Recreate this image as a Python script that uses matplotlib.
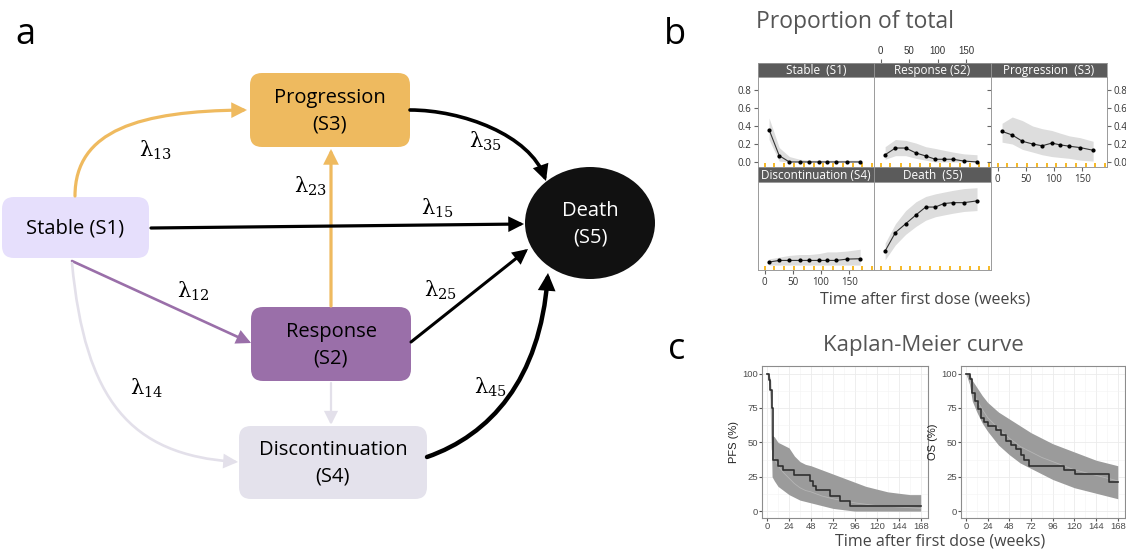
import matplotlib
matplotlib.use('Agg')
import matplotlib.pyplot as plt
from matplotlib.patches import FancyBboxPatch, Ellipse, FancyArrowPatch
from matplotlib.path import Path

W, H = 1126, 549
plt.rcParams['font.family'] = ['Open Sans', 'DejaVu Sans']
plt.rcParams['mathtext.fontset'] = 'dejavuserif'

# panel b: proportion of patients in each state
weeks = [8, 26, 44, 62, 79, 96, 111, 127, 146, 169]
stable_mid = [0.36, 0.07, 0.0, 0.0, 0.0, 0.0, 0.0, 0.0, 0.0, 0.0]
stable_lo = [0.25, 0.01, 0.0, 0.0, 0.0, 0.0, 0.0, 0.0, 0.0, 0.0]
stable_hi = [0.49, 0.16, 0.06, 0.03, 0.02, 0.02, 0.02, 0.02, 0.02, 0.02]
response_mid = [0.08, 0.155, 0.155, 0.10, 0.067, 0.03, 0.03, 0.03, 0.01, 0.0]
response_lo = [0.03, 0.07, 0.07, 0.04, 0.02, 0.0, 0.0, 0.0, 0.0, 0.0]
response_hi = [0.17, 0.25, 0.24, 0.21, 0.17, 0.15, 0.13, 0.11, 0.09, 0.08]
progression_mid = [0.34, 0.30, 0.23, 0.20, 0.18, 0.21, 0.19, 0.175, 0.16, 0.13]
progression_lo = [0.22, 0.20, 0.14, 0.11, 0.08, 0.06, 0.05, 0.04, 0.02, 0.01]
progression_hi = [0.43, 0.50, 0.46, 0.40, 0.37, 0.35, 0.32, 0.29, 0.27, 0.23]
discont_mid = [0.034, 0.053, 0.053, 0.053, 0.053, 0.053, 0.053, 0.053, 0.068, 0.072]
discont_lo = [0.0, 0.0, 0.0, 0.0, 0.0, 0.0, 0.0, 0.0, 0.0, 0.0]
discont_hi = [0.07, 0.09, 0.11, 0.12, 0.12, 0.13, 0.15, 0.15, 0.16, 0.18]
death_mid = [0.16, 0.37, 0.47, 0.57, 0.66, 0.66, 0.70, 0.71, 0.71, 0.73]
death_lo = [0.06, 0.23, 0.35, 0.44, 0.51, 0.55, 0.57, 0.59, 0.61, 0.62]
death_hi = [0.25, 0.47, 0.62, 0.72, 0.78, 0.81, 0.83, 0.85, 0.87, 0.88]
rug_weeks = [0, 17, 35, 52, 69, 87, 104, 121, 139, 156, 173, 190]

# panel c: Kaplan-Meier
pfs_t = [0, 2, 3.5, 5.5, 6.5, 12, 17, 30, 47, 50, 53, 69, 80, 91, 168]
pfs_s = [100, 95, 88, 75, 37, 33, 30, 26, 22, 18, 15, 11, 7.5, 4, 4]
pfs_band_t = [0, 2, 4, 5.5, 8, 12, 18, 24, 30, 36, 42, 48, 60, 72, 84, 96, 108, 120, 132, 144, 156, 168]
pfs_hi = [100, 100, 95, 55, 54, 50, 48, 46, 40, 36, 34, 33, 30, 27, 24, 21, 18, 16, 14, 13, 12, 12]
pfs_lo = [100, 95, 80, 25, 22, 18, 15, 12, 10, 8, 7, 6, 4, 2, 1, 0, 0, 0, 0, 0, 0, 0]
pfs_fit = [100, 98, 90, 45, 38, 33, 28, 24, 20, 17, 15, 14, 11, 9, 7.5, 6, 5, 4, 3.5, 3, 2.5, 2]
os_t = [0, 4, 7, 9.5, 13, 17, 20.5, 24, 33, 39, 44, 50, 55, 61, 64.5, 70, 109, 121, 158, 168]
os_s = [100, 96, 86, 80, 74, 68, 65, 62, 59, 55, 51, 48, 45, 41, 37, 33, 30, 27, 21.5, 21.5]
os_band_t = [0, 4, 7, 12, 18, 24, 36, 48, 60, 72, 84, 96, 108, 120, 132, 144, 156, 168]
os_hi = [100, 100, 95, 90, 84, 79, 72, 67, 62, 57, 53, 49, 46, 43, 40, 37, 35, 33]
os_lo = [100, 92, 80, 72, 64, 58, 48, 41, 35, 31, 27, 23, 20, 17, 15, 13, 11, 9]
os_fit = [100, 96, 88, 81, 74, 68, 60, 53, 47, 43, 39, 36, 33, 30, 28, 26, 24, 22]
km_ticks = [0, 24, 48, 72, 96, 120, 144, 168]

fig = plt.figure(figsize=(W / 100, H / 100), dpi=100)


def px_axes(x0, y0, x1, y1):
    return fig.add_axes([x0 / W, 1 - y1 / H, (x1 - x0) / W, (y1 - y0) / H])


# ---------------- panel a: state diagram ----------------
ax = fig.add_axes([0, 0, 1, 1])
ax.set_xlim(0, W)
ax.set_ylim(H, 0)
ax.axis('off')

boxes = [
    (2, 197, 149, 258, '#e6dffc', 'Stable (S1)'),
    (250, 73, 410, 147, '#eeba5f', 'Progression\n(S3)'),
    (251, 307, 411, 381, '#9a6fa9', 'Response\n(S2)'),
    (239, 426, 427, 499, '#e4e2ec', 'Discontinuation\n(S4)'),
]
for x0, y0, x1, y1, fc, label in boxes:
    ax.add_patch(FancyBboxPatch((x0, y0), x1 - x0, y1 - y0,
                                boxstyle='round,pad=0,rounding_size=12', fc=fc, ec='none'))
    ax.text((x0 + x1) / 2, (y0 + y1) / 2 + 1, label, ha='center', va='center',
            fontsize=14.5, linespacing=1.45)
ax.add_patch(Ellipse((590, 223), 130, 112, fc='#111111', ec='none'))
ax.text(590, 224, 'Death\n(S5)', ha='center', va='center', fontsize=14.5,
        color='white', linespacing=1.45)

head = '-|>,head_length=0.38,head_width=0.19'


def straight(p0, p1, color, lw):
    ax.add_patch(FancyArrowPatch(p0, p1, arrowstyle=head, mutation_scale=20, color=color,
                                 lw=lw, shrinkA=0, shrinkB=0, joinstyle='miter'))


def curved(pts, color, lw):
    path = Path(pts, [Path.MOVETO, Path.CURVE4, Path.CURVE4, Path.CURVE4])
    ax.add_patch(FancyArrowPatch(path=path, arrowstyle=head, mutation_scale=20, color=color,
                                 lw=lw, joinstyle='miter'))


orange, purple, pale = '#efba5f', '#9a6fa9', '#e3e0ea'
curved([(75, 196), (75, 130), (140, 111), (247, 110)], orange, 2.3)
straight((331, 306), (331, 149), orange, 2.3)
straight((151, 228), (524, 224), 'black', 2.3)
straight((72, 261), (251, 343), purple, 1.9)
curved([(72, 263), (85, 400), (130, 455), (238, 462)], pale, 1.9)
straight((331, 383), (331, 425), pale, 1.6)
curved([(410, 110), (462, 110), (530, 135), (546, 181)], 'black', 2.6)
straight((411, 342), (528, 249), 'black', 2.2)
curved([(427, 457), (490, 435), (540, 380), (548, 273)], 'black', 3.2)

lambdas = [(155, 150, '13'), (310, 186, '23'), (437, 208, '15'), (193, 291, '12'),
           (440, 290, '25'), (147, 388, '14'), (485, 141, '35'), (490, 387, '45')]
for x, y, sub in lambdas:
    ax.text(x, y, 'λ$_{%s}$' % sub, ha='center', va='center', fontsize=15,
            family=['DejaVu Serif'])

fig.text(25 / W, 1 - 35 / H, 'a', fontsize=26, ha='center', va='center')
fig.text(675 / W, 1 - 35 / H, 'b', fontsize=26, ha='center', va='center')
fig.text(677 / W, 1 - 350 / H, 'c', fontsize=26, ha='center', va='center')

# ---------------- panel b: proportion of total ----------------
tick_font = dict(family=['Liberation Sans', 'DejaVu Sans'], size=7)
grey_txt = '#555555'
fig.text(855 / W, 1 - 22 / H, 'Proportion of total', fontsize=16.5, color=grey_txt,
         ha='center', va='center')
fig.text(925 / W, 1 - 300 / H, 'Time after first dose (weeks)', fontsize=11.5,
         color='#444444', ha='center', va='center')

rows = [(63, 77, 167), (167, 182, 270)]
facets = [
    ('Stable  (S1)', stable_mid, stable_lo, stable_hi, 758, 874, 0),
    ('Response (S2)', response_mid, response_lo, response_hi, 874, 991, 0),
    ('Progression  (S3)', progression_mid, progression_lo, progression_hi, 991, 1107, 0),
    ('Discontinuation (S4)', discont_mid, discont_lo, discont_hi, 758, 874, 1),
    ('Death  (S5)', death_mid, death_lo, death_hi, 874, 991, 1),
]
for i, (name, mid, lo, hi, x0, x1, r) in enumerate(facets):
    s0, s1, p1 = rows[r]
    st = px_axes(x0, s0, x1, s1)
    st.set_facecolor('#5b5b5b')
    st.set_xlim(-11.5, 193.5)
    st.set_yticks([])
    st.set_xticks([])
    for sp in st.spines.values():
        sp.set_color('#9a9a9a')
        sp.set_linewidth(0.6)
    st.text(0.5, 0.45, name, transform=st.transAxes, ha='center', va='center',
            color='white', fontsize=8.5)

    p = px_axes(x0, s1, x1, p1)
    p.fill_between(weeks, lo, hi, color='#dddddd', lw=0)
    p.plot(weeks, mid, color='#333333', lw=0.8, marker='o', ms=2.0,
           mfc='black', mec='black')
    p.set_xlim(-11.5, 193.5)
    p.set_ylim(-0.056, 0.945)
    for sp in p.spines.values():
        sp.set_color('#9a9a9a')
        sp.set_linewidth(0.7)
    p.set_xticks([0, 50, 100, 150])
    p.set_yticks([0.0, 0.2, 0.4, 0.6, 0.8])
    p.set_yticklabels(['0.0', '0.2', '0.4', '0.6', '0.8'])
    p.xaxis.remove_overlapping_locs = False
    p.set_xticks(rug_weeks, minor=True)
    p.tick_params(axis='both', which='major', length=0, labelbottom=False, labelleft=False)
    p.tick_params(axis='x', which='minor', bottom=True, direction='in', length=3,
                  width=1.2, color='#f5ad00')
    p.tick_params(axis='y', which='minor', left=False)
    for lab in p.get_xticklabels() + p.get_yticklabels():
        lab.set_fontproperties(tick_font)
        lab.set_color('#333333')
    if i == 0:
        p.tick_params(axis='y', which='major', left=True, labelleft=True, length=3,
                      color='#666666', labelsize=7, labelcolor='#333333', pad=2)
    if i == 2:
        p.tick_params(axis='y', which='major', right=True, labelright=True, length=3,
                      color='#666666', labelsize=7, labelcolor='#333333', pad=2)
    if i in (2, 3):
        p.tick_params(axis='x', which='major', bottom=True, labelbottom=True, length=3,
                      color='#666666', labelsize=7, labelcolor='#333333', pad=2)
    if i == 1:
        st.set_xticks([0, 50, 100, 150])
        st.tick_params(axis='x', top=True, labeltop=True, bottom=False, labelbottom=False,
                       length=3, color='#666666', labelsize=7, labelcolor='#333333', pad=2)
        for lab in st.get_xticklabels():
            lab.set_fontproperties(tick_font)

# ---------------- panel c: Kaplan-Meier ----------------
fig.text(923 / W, 1 - 346 / H, 'Kaplan-Meier curve', fontsize=16, color=grey_txt,
         ha='center', va='center')
fig.text(940 / W, 1 - 542 / H, 'Time after first dose (weeks)', fontsize=11.5,
         color='#444444', ha='center', va='center')

km_panels = [
    (762, 928, 'PFS (%)', pfs_t, pfs_s, pfs_band_t, pfs_lo, pfs_hi, pfs_fit),
    (961, 1125, 'OS (%)', os_t, os_s, os_band_t, os_lo, os_hi, os_fit),
]
for x0, x1, ylab, t, s, bt, lo, hi, fit in km_panels:
    k = px_axes(x0, 366, x1, 518)
    k.set_facecolor('white')
    k.set_xlim(-5.5, 176)
    k.set_ylim(-5, 105.5)
    k.set_xticks(km_ticks)
    k.set_xticks([12, 36, 60, 84, 108, 132, 156], minor=True)
    k.set_yticks([0, 25, 50, 75, 100])
    k.set_yticks([12.5, 37.5, 62.5, 87.5], minor=True)
    k.grid(which='major', color='#ebebeb', lw=0.6)
    k.grid(which='minor', color='#f3f3f3', lw=0.4)
    k.set_axisbelow(True)
    k.fill_between(bt, lo, hi, color='#9b9b9b', lw=0)
    k.plot(bt, fit, color='#b5b5b5', lw=0.6)
    k.step(t, s, where='post', color='#2f2f2f', lw=1.2)
    for sp in k.spines.values():
        sp.set_color('#8c8c8c')
        sp.set_linewidth(0.8)
    k.tick_params(which='major', length=2, color='#555555', labelsize=6.8,
                  labelcolor='#4d4d4d', pad=1)
    k.tick_params(which='minor', length=0)
    for lab in k.get_xticklabels() + k.get_yticklabels():
        lab.set_fontproperties(dict(family=['Liberation Sans', 'DejaVu Sans'], size=6.8))
    k.set_ylabel(ylab, fontsize=8, color='#222222', labelpad=2,
                 family=['Liberation Sans', 'DejaVu Sans'])

fig.savefig('out.png', dpi=100)
